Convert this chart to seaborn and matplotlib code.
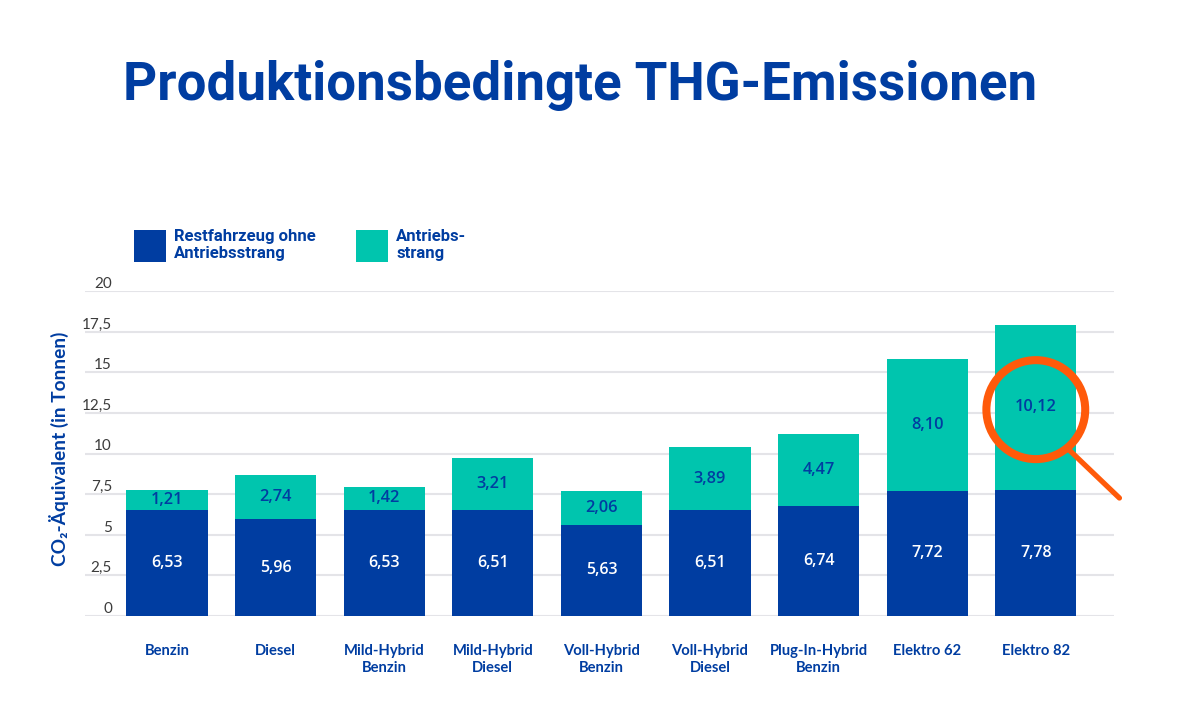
import matplotlib
matplotlib.use("Agg")
import matplotlib.pyplot as plt
import pandas as pd
import seaborn as sns
from matplotlib.patches import Ellipse

categories = ["Benzin", "Diesel", "Mild-Hybrid\nBenzin", "Mild-Hybrid\nDiesel", "Voll-Hybrid\nBenzin",
              "Voll-Hybrid\nDiesel", "Plug-In-Hybrid\nBenzin", "Elektro 62", "Elektro 82"]
rest_vehicle = [6.53, 5.96, 6.53, 6.51, 5.63, 6.51, 6.74, 7.72, 7.78]
powertrain = [1.21, 2.74, 1.42, 3.21, 2.06, 3.89, 4.47, 8.10, 10.12]
y_ticks = [0, 2.5, 5, 7.5, 10, 12.5, 15, 17.5, 20]
y_tick_labels = ["0", "2,5", "5", "7,5", "10", "12,5", "15", "17,5", "20"]
series_names = ["Restfahrzeug ohne\nAntriebsstrang", "Antriebs-\nstrang"]

NAVY = "#003da1"
TEAL = "#00c5ae"
ORANGE = "#ff5a0a"
GRID = "#e4e4e8"

sns.set_theme(style="white")
plt.rcParams["font.family"] = ["Lato", "DejaVu Sans"]

df = pd.DataFrame({"category": categories, "rest": rest_vehicle, "power": powertrain})

fig = plt.figure(figsize=(12, 7.2), dpi=100)
ax = fig.add_axes([85 / 1200, 1 - 616 / 720, 1029 / 1200, 325 / 720])

sns.barplot(data=df, x="category", y="rest", color=NAVY, saturation=1, width=0.746, linewidth=0, ax=ax, zorder=3)
sns.barplot(data=df, x="category", y="power", bottom=df["rest"], color=TEAL, saturation=1, width=0.746, linewidth=0,
            ax=ax, zorder=3)

ax.set_xlim(-0.755, 8.72)
ax.set_ylim(0, 20)
ax.set_xlabel("")
ax.set_ylabel("CO₂-Äquivalent (in Tonnen)", color=NAVY, fontsize=13.8, fontweight="bold")
ax.yaxis.set_label_coords(-16 / 1029, 0.515)

ax.set_yticks(y_ticks)
ax.set_yticklabels(y_tick_labels, va="bottom", color="#3c3c3c", fontsize=11)
ax.tick_params(axis="y", length=0, pad=-19.4)
ax.tick_params(axis="x", length=0, pad=20, labelcolor=NAVY, labelsize=10.6)
for lab in ax.get_xticklabels():
    lab.set_fontweight("bold")
    lab.set_linespacing(1.3)
ax.grid(axis="y", color=GRID, linewidth=1.5, zorder=0)
ax.set_axisbelow(True)
sns.despine(ax=ax, left=True, bottom=True)

ax.bar_label(ax.containers[0], labels=[f"{v:.2f}".replace(".", ",") for v in rest_vehicle],
             label_type="center", color="white", fontsize=11.5, fontweight="semibold", family="Open Sans")
ax.bar_label(ax.containers[1], labels=[f"{v:.2f}".replace(".", ",") for v in powertrain],
             label_type="center", color=NAVY, fontsize=11.8, fontweight="semibold", family="Open Sans")

# magnifier on the last bar
ax.add_patch(Ellipse((8, 12.7), 0.91, 6.09, fill=False, edgecolor=ORANGE, linewidth=5.8, zorder=5, clip_on=False))
ax.plot([8.31, 8.77], [10.2, 7.26], color=ORANGE, linewidth=3.8, solid_capstyle="round", zorder=5, clip_on=False)

fig.legend([ax.containers[0], ax.containers[1]], series_names, loc="lower left",
           bbox_to_anchor=(134 / 1200, 1 - 262 / 720), ncol=2, frameon=False, borderpad=0, borderaxespad=0,
           prop={"family": "Roboto", "weight": "bold", "stretch": "condensed", "size": 12},
           labelcolor=NAVY, handlelength=1.92, handleheight=2.55, handletextpad=0.5, columnspacing=2.4,
           labelspacing=0)

fig.text(123 / 1200, 1 - 100 / 720, "Produktionsbedingte THG-Emissionen", color=NAVY, fontsize=38.1,
         fontweight="bold", family="Roboto", stretch="condensed", ha="left", va="baseline")

fig.savefig("out.png", dpi=100)
